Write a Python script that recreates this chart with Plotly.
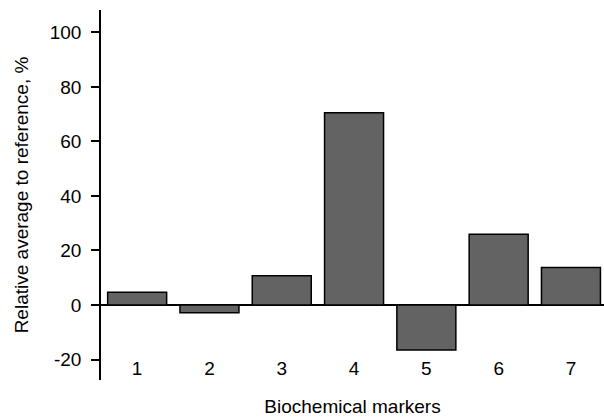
import plotly.graph_objects as go

categories = ["1", "2", "3", "4", "5", "6", "7"]
values = [4.7, -2.8, 10.7, 70.5, -16.5, 26.0, 13.8]
y_ticks = [-20, 0, 20, 40, 60, 80, 100]
y_tick_labels = [str(v) for v in y_ticks]

FONT = "Liberation Sans, Arial, sans-serif"

fig = go.Figure(go.Bar(
    x=categories, y=values,
    marker=dict(color="#636363", line=dict(color="black", width=1.5)),
))

fig.update_layout(
    width=604, height=418,
    margin=dict(l=101, r=0, t=10, b=38),
    plot_bgcolor="white", paper_bgcolor="white",
    bargap=0.184,
    showlegend=False,
    font=dict(family=FONT, size=19, color="black"),
)
fig.update_xaxes(
    type="category", range=[-0.5, 6.457],
    anchor="free", position=0.068,
    showline=False, showgrid=False, ticks="",
    automargin=False,
    tickfont=dict(family=FONT, size=19),
    title=dict(text="Biochemical markers", standoff=21, font=dict(family=FONT, size=19)),
)
fig.update_yaxes(
    range=[-27.5, 108.2],
    tickvals=y_ticks, ticktext=y_tick_labels,
    automargin=False,
    showline=True, linecolor="black", linewidth=1.5,
    ticks="outside", ticklen=8, tickwidth=1.5, tickcolor="black",
    ticklabelstandoff=6,
    showgrid=False,
    zeroline=True, zerolinecolor="black", zerolinewidth=1.5,
    tickfont=dict(family=FONT, size=19),
    title=dict(text="Relative average to reference, %", standoff=16, font=dict(family=FONT, size=19)),
)

fig.write_html("out.html", config={"displayModeBar": False},
               post_script="document.body.style.margin='0';")
